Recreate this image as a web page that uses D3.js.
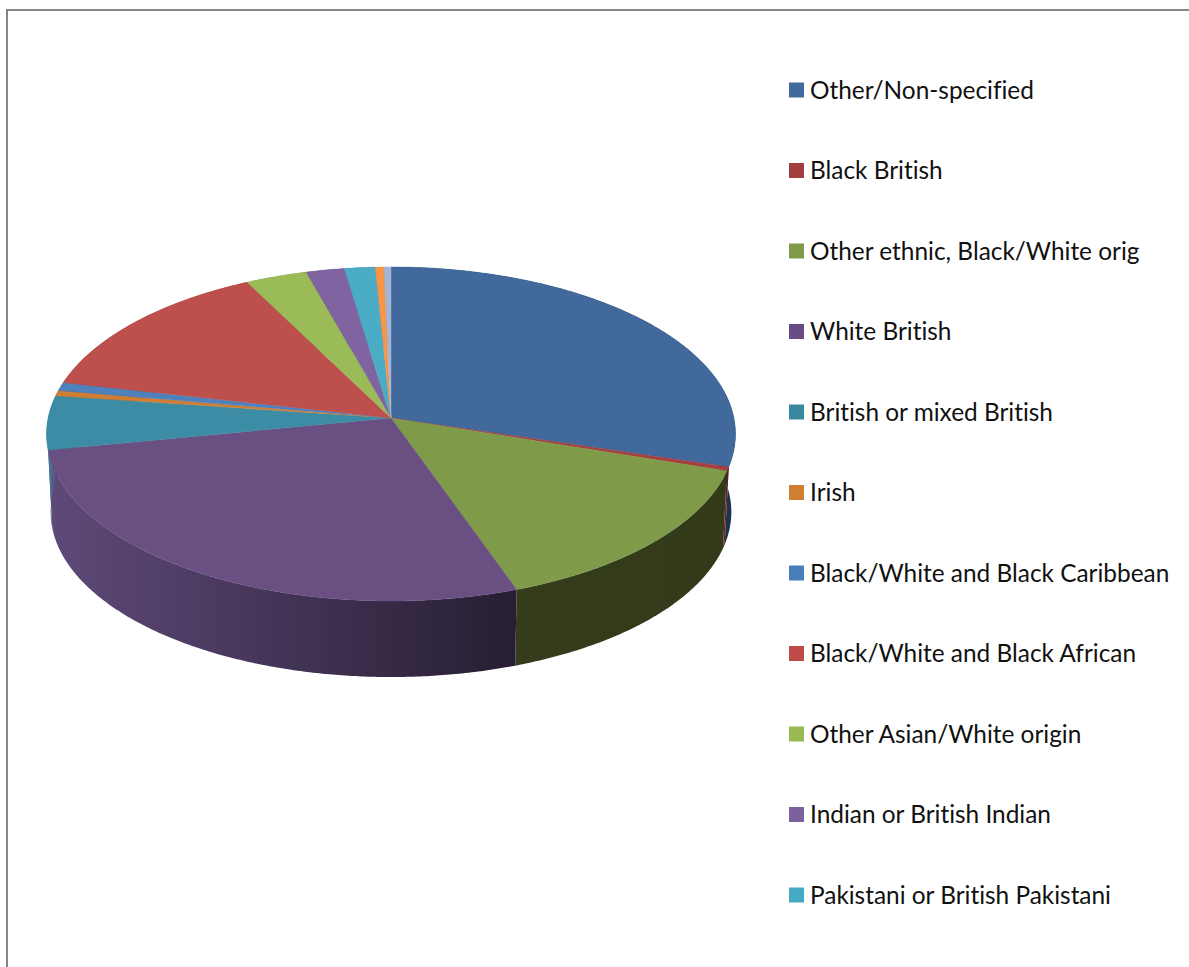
<!DOCTYPE html>
<html>
<head>
<meta charset="utf-8">
<script src="https://cdn.jsdelivr.net/npm/d3@7/dist/d3.min.js"></script>
<style>
html,body{margin:0;padding:0;background:#fff;overflow:hidden}
svg{display:block}
text{font-family:Lato,"Open Sans",sans-serif;fill:#111;font-variant-ligatures:none}
</style>
</head>
<body>
<svg id="chart" width="1189" height="967"></svg>
<script>
// Legend labels (the last two slices have no legend row on the page)
const categories = [
  "Other/Non-specified","Black British","Other ethnic, Black/White orig","White British",
  "British or mixed British","Irish","Black/White and Black Caribbean","Black/White and Black African",
  "Other Asian/White origin","Indian or British Indian","Pakistani or British Pakistani"
];
// Share of each slice, percent, clockwise from twelve o'clock
const shares = [29.64,0.38,14.57,27.36,5.22,0.53,0.81,13.97,3.17,1.97,1.58,0.44,0.36];
const topColors = ["#41699c","#a5403e","#7f9a48","#6a4f82","#3c8ca5","#cf7f33","#4f81bd","#bd4f4c","#9bbb59","#8064a2","#4bacc6","#f79646","#a5b5d6"];
const legendColors = ["#41699c","#a03f3d","#7f9a48","#664b84","#3a87a0","#cf7e32","#4a7ebb","#be4b48","#98b954","#7d60a0","#46aac5"];
// Wall shading: colour at the left and right of each visible outer wall
const wallLeft = ["#1b3654","#6e1f1e","#343c1c","#5e4a79","#3c8ca5","#8a5522","#33557f","#7e3332","#66793a","#54426b","#317186","#a86430","#6e7a90"];
const wallRight = ["#1a3350","#5c1a1a","#323a1a","#271e33","#5e4a79","#8a5522","#33557f","#7e3332","#66793a","#54426b","#317186","#a86430","#6e7a90"];

const svg = d3.select("#chart");

// Frame of the chart area
svg.append("path").attr("d","M7,967V10H1189").attr("fill","none").attr("stroke","#868686").attr("stroke-width",2);

// Tilted-disc projection: unit circle to screen, foreshortened towards the back
const apex = {x:391, y:418};
const persp = -0.0958, scaleY = 165.5, scaleX = 342.9;
const wallDrop = 78.2, wallScale = 0.988;
function project(angle, lower){
  const u = Math.sin(angle), v = -Math.cos(angle), w = 1 + persp*v;
  const x = scaleX*u/w, y = scaleY*v/w, s = lower ? wallScale : 1;
  return [apex.x + s*x, apex.y + s*y + (lower ? wallDrop : 0)];
}
const arcs = d3.pie().sort(null).value(d=>d)(shares);
const line = d3.line();
const degrees = (a,b)=>d3.range(a, b, Math.PI/360).concat([b]);

// Outer walls, each with a horizontal light falloff
const defs = svg.append("defs");
const walls = svg.append("g");
arcs.forEach((d,i)=>{
  const angles = degrees(d.startAngle,d.endAngle);
  const upper = angles.map(a=>project(a,false));
  const lower = angles.map(a=>project(a,true)).reverse();
  const xs = upper.map(p=>p[0]);
  const gid = "wall"+i;
  const g = defs.append("linearGradient").attr("id",gid).attr("gradientUnits","userSpaceOnUse")
    .attr("x1",d3.min(xs)).attr("x2",d3.max(xs)).attr("y1",0).attr("y2",0);
  g.append("stop").attr("offset",0).attr("stop-color",wallLeft[i]);
  g.append("stop").attr("offset",1).attr("stop-color",wallRight[i]);
  walls.append("path").attr("d",line(upper.concat(lower))+"Z").attr("fill",`url(#${gid})`);
});

// Upper faces
const faces = svg.append("g");
arcs.forEach((d,i)=>{
  const rim = degrees(d.startAngle,d.endAngle).map(a=>project(a,false));
  faces.append("path").attr("d",line([[apex.x,apex.y]].concat(rim))+"Z")
    .attr("fill",topColors[i]).attr("stroke",topColors[i]).attr("stroke-width",0.4);
});

// Legend
const rowY = d3.scalePoint().domain(categories).range([90,895]);
const legend = svg.append("g").selectAll("g").data(categories).join("g")
  .attr("transform",d=>`translate(789,${rowY(d)})`);
legend.append("rect").attr("x",0).attr("y",-7.5).attr("width",15).attr("height",15)
  .attr("fill",(d,i)=>legendColors[i]);
legend.append("text").attr("x",21).attr("y",8.5).attr("font-size",24.4).text(d=>d);
</script>
</body>
</html>
